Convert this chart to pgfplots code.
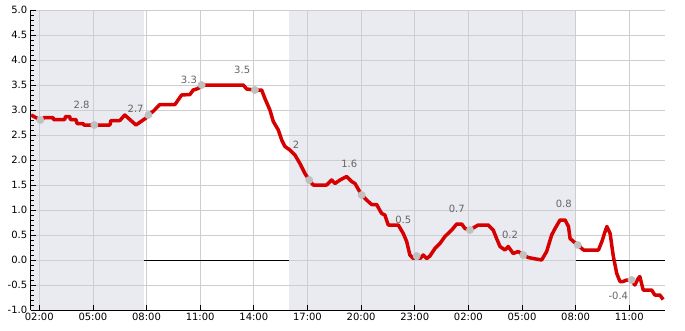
\documentclass[border=0pt]{standalone}
\usepackage{pgfplots}
\pgfplotsset{compat=1.18}
\usepackage{fontspec}
\setmainfont{DejaVu Sans}
\definecolor{shade}{RGB}{234,235,240}
\definecolor{gridgray}{RGB}{206,206,206}
\definecolor{curvered}{RGB}{214,0,0}
\definecolor{dotgray}{RGB}{192,192,192}
\definecolor{labgray}{RGB}{100,100,100}
\begin{document}
\begin{tikzpicture}
\begin{axis}[
  set layers,
  width=634.3pt, height=300pt, scale only axis,
  xmin=1.52, xmax=37, ymin=-1, ymax=5,
  axis x line*=bottom, axis y line*=left,
  tick align=inside,
  ytick={-1,-0.5,0,0.5,1,1.5,2,2.5,3,3.5,4,4.5,5},
  minor y tick num=4,
  xtick={2,5,8,11,14,17,20,23,26,29,32,35},
  xticklabels={02:00,05:00,08:00,11:00,14:00,17:00,20:00,23:00,02:00,05:00,08:00,11:00},
  grid=major,
  major grid style={color=gridgray, line width=0.8pt},
  yticklabel style={/pgf/number format/.cd, fixed, fixed zerofill, precision=1},
  /pgf/number format/assume math mode=true,
  tick style={black, line width=0.8pt},
  major tick length=5pt, minor tick length=3pt,
  axis line style={black, line width=0.8pt},
  ticklabel style={font=\fontsize{10}{12}\selectfont},
  clip=false,
]
\addplot[fill=shade, draw=none, on layer=axis background] coordinates {(1.52,-1) (7.86,-1) (7.86,5) (1.52,5)} -- cycle;
\addplot[fill=shade, draw=none, on layer=axis background] coordinates {(15.96,-1) (32.0,-1) (32.0,5) (15.96,5)} -- cycle;
\addplot[black, line width=0.8pt] coordinates {(7.86,0) (15.96,0)};
\addplot[black, line width=0.8pt] coordinates {(32.0,0) (37,0)};
\addplot[curvered, line width=3.5pt, line join=round] coordinates {
(1.54,2.9) (2.06,2.8) (2.30,2.85) (2.77,2.85) (2.79,2.81) (3.42,2.81) (3.47,2.87) (3.70,2.87) (3.74,2.81)
(4.05,2.81) (4.11,2.73) (4.44,2.73) (4.50,2.70) (5.95,2.70) (6.01,2.79) (6.51,2.79) (6.78,2.90)
(7.41,2.70) (7.97,2.84) (8.10,2.90) (8.36,2.97) (8.75,3.11) (9.59,3.11) (9.96,3.30) (10.43,3.31)
(10.61,3.40) (10.89,3.43) (11.08,3.50) (13.41,3.50) (13.60,3.42) (14.06,3.40) (14.44,3.40)
(14.62,3.23) (14.90,3.00) (15.09,2.77) (15.37,2.60) (15.56,2.40) (15.74,2.27) (16.02,2.20)
(16.30,2.10) (16.58,1.93) (16.86,1.73) (17.10,1.60) (17.32,1.50) (18.07,1.50) (18.35,1.60)
(18.54,1.53) (18.82,1.60) (19.19,1.67) (19.47,1.57) (19.66,1.53) (20.03,1.30) (20.40,1.17)
(20.59,1.11) (20.87,1.11) (21.15,0.93) (21.33,0.90) (21.52,0.70) (22.08,0.70) (22.36,0.53)
(22.55,0.37) (22.73,0.10) (22.92,0.03) (23.11,0.08) (23.30,0.03) (23.48,0.10) (23.67,0.03)
(23.85,0.08) (24.13,0.23) (24.41,0.33) (24.69,0.47) (25.07,0.60) (25.35,0.72) (25.63,0.72)
(25.81,0.63) (26.09,0.60) (26.55,0.70) (27.11,0.70) (27.39,0.60) (27.58,0.43) (27.77,0.27)
(28.05,0.20) (28.23,0.27) (28.51,0.13) (28.79,0.17) (29.07,0.10) (29.35,0.05) (29.63,0.03)
(30.10,0.00) (30.38,0.17) (30.66,0.50) (30.85,0.63) (31.13,0.80) (31.41,0.80) (31.60,0.67)
(31.69,0.43) (31.88,0.37) (32.12,0.30) (32.44,0.20) (33.28,0.20) (33.47,0.37) (33.65,0.57)
(33.75,0.67) (33.93,0.53) (34.11,0.07) (34.30,-0.27) (34.48,-0.43) (34.66,-0.43) (34.85,-0.40)
(35.13,-0.40) (35.31,-0.50) (35.50,-0.37) (35.59,-0.33) (35.78,-0.60) (36.25,-0.60) (36.43,-0.70)
(36.71,-0.70) (36.90,-0.79)
};
\addplot[only marks, mark=*, mark size=3.7pt, mark options={fill=dotgray, draw=dotgray}] coordinates {
(2.06,2.8) (5.08,2.7) (8.10,2.9) (11.08,3.5) (14.06,3.4) (17.10,1.6) (20.03,1.3) (23.11,0.08)
(26.09,0.6) (29.07,0.1) (32.12,0.3) (35.13,-0.4)
};
\begin{scope}[every node/.style={text=labgray, font=\fontsize{10}{12}\selectfont, inner sep=0pt}]
\node at (axis cs:4.37,3.11) {2.8};
\node at (axis cs:7.39,3.02) {2.7};
\node at (axis cs:10.37,3.61) {3.3};
\node at (axis cs:13.35,3.81) {3.5};
\node at (axis cs:16.36,2.31) {2};
\node at (axis cs:19.34,1.92) {1.6};
\node at (axis cs:22.36,0.81) {0.5};
\node at (axis cs:25.35,1.02) {0.7};
\node at (axis cs:28.33,0.51) {0.2};
\node at (axis cs:31.34,1.12) {0.8};
\node at (axis cs:34.39,-0.72) {-0.4};
\end{scope}
\end{axis}
\pgfresetboundingbox
\path[use as bounding box] (current axis.south west) ++(-30.7pt,-20pt) rectangle ++(685pt,330pt);
\end{tikzpicture}
\end{document}
